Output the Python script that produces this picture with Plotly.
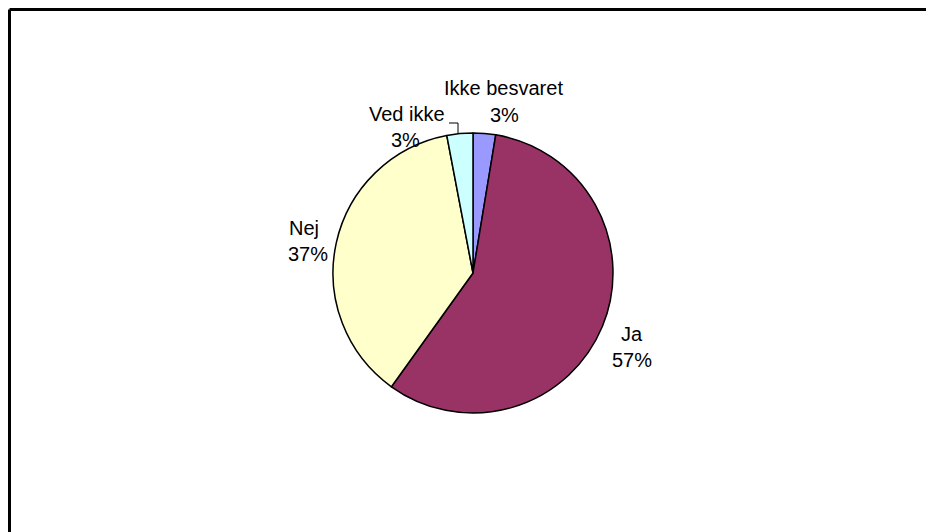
import plotly.graph_objects as go

labels = ["Ikke besvaret", "Ja", "Nej", "Ved ikke"]
values = [2.6, 57.3, 37.1, 3.0]
colors = ["#9999FF", "#993366", "#FFFFCC", "#CCFFFF"]

# label positions in page pixels (center of name line, center of percent line)
label_pos = {
    "Ikke besvaret": ((503, 88), (504, 115)),
    "Ja": ((632, 334), (632, 360)),
    "Nej": ((304, 228), (308, 254)),
    "Ved ikke": ((407, 114), (405, 140)),
}

W, H = 926, 532
cx, cy, r = 473, 273, 140

def px(x):
    return x / W

def py(y):
    return 1 - y / H

fig = go.Figure(go.Pie(
    labels=labels,
    values=values,
    sort=False,
    direction="clockwise",
    rotation=0,
    marker=dict(colors=colors, line=dict(color="black", width=1.5)),
    textinfo="none",
    hoverinfo="label+percent",
    domain=dict(x=[px(cx - r), px(cx + r)], y=[py(cy + r), py(cy - r)]),
    showlegend=False,
))

total = sum(values)
font = dict(family="Liberation Sans, Arial, sans-serif", size=20, color="black")
annotations = []
for lab, val in zip(labels, values):
    (x1, y1), (x2, y2) = label_pos[lab]
    pct = f"{round(val / total * 100):d}%"
    annotations.append(dict(x=px(x1), y=py(y1), xref="paper", yref="paper",
                            text=lab, showarrow=False, font=font,
                            xanchor="center", yanchor="middle"))
    annotations.append(dict(x=px(x2), y=py(y2), xref="paper", yref="paper",
                            text=pct, showarrow=False, font=font,
                            xanchor="center", yanchor="middle"))

shapes = [
    # chart border (top and left edges visible in the window)
    dict(type="line", xref="paper", yref="paper",
         x0=px(9.5), y0=py(9.5), x1=1, y1=py(9.5),
         line=dict(color="black", width=3)),
    dict(type="line", xref="paper", yref="paper",
         x0=px(9.5), y0=py(9.5), x1=px(9.5), y1=0,
         line=dict(color="black", width=3)),
    # leader line for "Ved ikke"
    dict(type="path", xref="paper", yref="paper",
         path=f"M {px(449)} {py(123)} L {px(458)} {py(123)} L {px(458)} {py(134)}",
         line=dict(color="black", width=1)),
]

fig.update_layout(
    width=W, height=H,
    margin=dict(l=0, r=0, t=0, b=0),
    paper_bgcolor="white",
    plot_bgcolor="white",
    annotations=annotations,
    shapes=shapes,
)

fig.write_html(
    "out.html",
    config={"displayModeBar": False},
    post_script="document.body.style.margin='0';document.body.style.overflow='hidden';",
)
